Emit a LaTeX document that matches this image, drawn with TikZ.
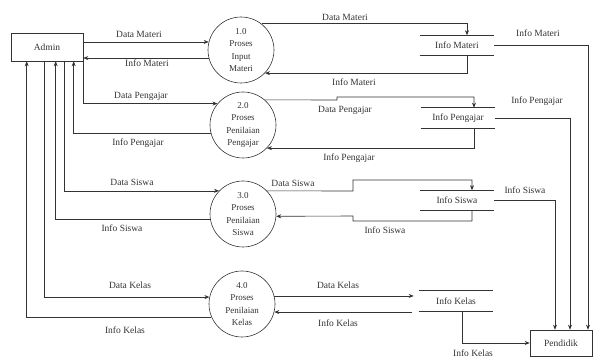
\documentclass[tikz,border=0pt]{standalone}
\usepackage{fontspec}
\setmainfont{Liberation Serif}
\usetikzlibrary{arrows.meta}

\tikzset{
  entity/.style={draw, rectangle, minimum width=72pt, minimum height=28pt, inner sep=0pt, font=\fontsize{9.5}{10}\selectfont},
  proc/.style={draw, circle, minimum size=66pt, inner sep=0pt, align=center, font=\fontsize{9}{12.5}\selectfont},
  datastore/.style={minimum width=74pt, minimum height=20pt, inner sep=0pt, font=\fontsize{9.5}{10}\selectfont},
  flow/.style={->},
  lbl/.style={inner sep=1pt, font=\fontsize{9.5}{10}\selectfont}
}

\begin{document}
\begin{tikzpicture}[x=1pt, y=-1pt, >={Stealth[length=5pt,width=4pt]}, line width=0.6pt, color=black!80]
	\useasboundingbox (0,0) rectangle (595,358);

	% External entities
	\node[entity] (admin) at (47,47) {Admin};
	\node[entity, minimum width=62pt, minimum height=26pt] (pend) at (561,343) {Pendidik};

	% Processes
	\node[proc] (p1) at (241,50) {1.0\\Proses\\Input\\Materi};
	\node[proc] (p2) at (243,125) {2.0\\Proses\\Penilaian\\Pengajar};
	\node[proc] (p3) at (243,214) {3.0\\Proses\\Penilaian\\Siswa};
	\node[proc] (p4) at (242,304) {4.0\\Proses\\Penilaian\\Kelas};

	% Data stores
	\node[datastore] (s1) at (457,45.5) {Info Materi};
	\node[datastore] (s2) at (458,118) {Info Pengajar};
	\node[datastore] (s3) at (457,200.5) {Info Siswa};
	\node[datastore] (s4) at (456,301) {Info Kelas};
	\foreach \s in {s1,s2,s3,s4}
		\draw (\s.north west) -- (\s.north east) (\s.south west) -- (\s.south east);

	% Admin <-> 1.0 <-> Info Materi
	\draw[flow] (admin.east |- p1.166) -- (p1.166);
	\draw[flow] (p1.194) -- (admin.east |- p1.194);
	\draw[flow] (p1.52) -| ([xshift=10pt]s1.north);
	\draw[flow] ([xshift=10pt]s1.south) |- (p1.316);
	\draw[flow] (s1.east) -| ([xshift=27pt]pend.north);

	% Admin <-> 2.0 <-> Info Pengajar
	\draw[flow] (admin.south east) |- (p2.140);
	\draw[flow] (p2.194) -| ([xshift=63pt]admin.south west);
	\draw[flow] (p2.49) -- (337,100) -- (337,97) -| ([xshift=16pt]s2.north);
	\draw[flow] ([xshift=16pt]s2.south) |- (p2.316);
	\draw[flow] (s2.east) -| ([xshift=9pt]pend.north);

	% Admin <-> 3.0 <-> Info Siswa
	\draw[flow] ([xshift=54pt]admin.south west) |- (p3.136);
	\draw[flow] (p3.190) -| ([xshift=45pt]admin.south west);
	\draw[flow] (p3.44) -- (353,191) -- (353,180) -| ([xshift=15pt]s3.north);
	\draw[flow] ([xshift=15pt]s3.south) |- (353,221) -- (353,216) -- (p3.356);
	\draw[flow] (s3.east) -| ([xshift=-6pt]pend.north);

	% Admin <-> 4.0 <-> Info Kelas
	\draw[flow] ([xshift=34pt]admin.south west) |- (p4.168);
	\draw[flow] (p4.203) -| ([xshift=16pt]admin.south west);
	\draw[flow, shorten >=5pt] (p4.14) -- (p4.14 -| s4.west);
	\draw[flow, shorten <=7pt] (p4.346 -| s4.west) -- (p4.346);
	\draw[flow] ([xshift=6pt]s4.south) |- (pend.west);

	% Flow labels
	\node[lbl] (l1) at (139,34) {Data Materi};
	\node[lbl] (l2) at (147,63) {Info Materi};
	\node[lbl] (l3) at (345,17) {Data Materi};
	\node[lbl] (l4) at (354,82) {Info Materi};
	\node[lbl] (l5) at (538,33) {Info Materi};
	\node[lbl] (l6) at (141,96) {Data Pengajar};
	\node[lbl] (l7) at (138,143) {Info Pengajar};
	\node[lbl] (l8) at (345,110) {Data Pengajar};
	\node[lbl] (l9) at (349,158) {Info Pengajar};
	\node[lbl] (l10) at (537,101) {Info Pengajar};
	\node[lbl] (l11) at (132,182) {Data Siswa};
	\node[lbl] (l12) at (122,228) {Info Siswa};
	\node[lbl] (l13) at (293,183) {Data Siswa};
	\node[lbl] (l14) at (385,230) {Info Siswa};
	\node[lbl] (l15) at (525,190) {Info Siswa};
	\node[lbl] (l16) at (130,285) {Data Kelas};
	\node[lbl] (l17) at (125,330) {Info Kelas};
	\node[lbl] (l18) at (338,285) {Data Kelas};
	\node[lbl] (l19) at (338,323) {Info Kelas};
	\node[lbl] (l20) at (473,353) {Info Kelas};
\end{tikzpicture}
\end{document}
